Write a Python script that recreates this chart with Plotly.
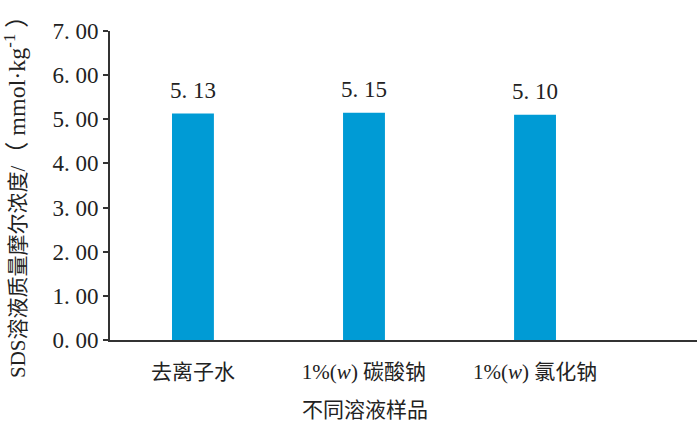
import plotly.graph_objects as go

categories = ["去离子水", "1%(<i>w</i>) 碳酸钠", "1%(<i>w</i>) 氯化钠"]
values = [5.13, 5.15, 5.10]
value_labels = ["5. 13", "5. 15", "5. 10"]
y_ticks = [0, 1, 2, 3, 4, 5, 6, 7]
y_tick_labels = ["0. 00", "1. 00", "2. 00", "3. 00", "4. 00", "5. 00", "6. 00", "7. 00"]
x_title = "不同溶液样品"
y_title = ("SDS溶液质量摩尔浓度/"
           "<span style='font-size:24px'>（ mmol·kg<sup>-1</sup> ）</span>")

FONT = "Liberation Serif, Noto Sans CJK SC, serif"
xpos = list(range(len(categories)))

fig = go.Figure()
fig.add_trace(go.Bar(
    x=xpos, y=values, width=0.245,
    marker=dict(color="#009BD5", line=dict(width=0)),
    hoverinfo="skip",
))

annotations = [
    dict(x=xv, y=v, text=t, xref="x", yref="y", showarrow=False,
         xanchor="center", yanchor="bottom", yshift=9,
         font=dict(family=FONT, size=23, color="#222"))
    for xv, v, t in zip(xpos, values, value_labels)
]
annotations += [
    dict(text=x_title, xref="paper", yref="paper",
         x=(365 - 110) / 587, y=-(408 - 340) / 309,
         xanchor="center", yanchor="middle", showarrow=False,
         font=dict(family="Noto Sans CJK SC", size=21, color="#222")),
    dict(text=y_title, xref="paper", yref="paper", textangle=-90,
         x=(15 - 110) / 587, y=(340 - 191) / 309,
         xanchor="center", yanchor="middle", showarrow=False,
         font=dict(family="Liberation Serif, Noto Sans CJK SC", size=21, color="#222")),
]

fig.update_layout(
    width=700, height=426,
    margin=dict(l=110, r=3, t=31, b=86),
    plot_bgcolor="white", paper_bgcolor="white",
    showlegend=False,
    font=dict(family=FONT, color="#222"),
    xaxis=dict(
        range=[-0.485, 2.947],
        tickvals=xpos, ticktext=categories,
        ticks="outside", ticklen=12, tickcolor="rgba(0,0,0,0)",
        tickfont=dict(family="Liberation Serif, Noto Sans CJK SC", size=21, color="#222"),
        showline=True, linecolor="#333", linewidth=2,
        showgrid=False, zeroline=False,
    ),
    yaxis=dict(
        range=[0, 7],
        tickvals=y_ticks, ticktext=y_tick_labels,
        ticks="outside", ticklen=5, tickcolor="#333", tickwidth=1.5,
        tickfont=dict(family=FONT, size=23, color="#222"),
        showline=True, linecolor="#333", linewidth=2,
        showgrid=False, zeroline=False,
    ),
    annotations=annotations,
)

fig.write_html("out.html",
               config={"displayModeBar": False},
               post_script="document.body.style.margin='0';document.body.style.overflow='hidden';")
